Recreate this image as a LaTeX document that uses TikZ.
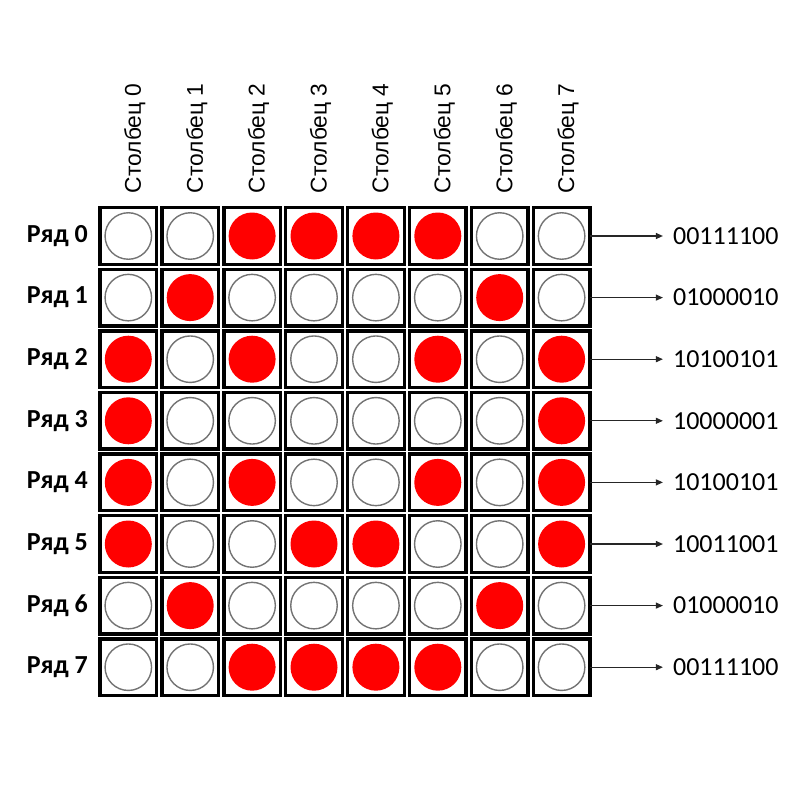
\documentclass[tikz,border=0pt]{standalone}
\usepackage{fontspec}
\setmainfont{Carlito}
\newfontfamily\colfont{Liberation Sans}
\usetikzlibrary{arrows.meta, positioning}

\begin{document}
\begin{tikzpicture}[
  x=1pt, y=-1pt,
  font=\fontsize{26}{30}\selectfont,
  cell/.style={draw, line width=3.4pt, minimum size=56.6pt, inner sep=0pt, outer sep=0pt},
  led0/.style={circle, draw=black!55, line width=1.4pt, minimum size=46.5pt, inner sep=0pt},
  led1/.style={circle, fill=red, minimum size=47pt, inner sep=0pt},
  rowlab/.style={font=\fontsize{26}{30}\selectfont\bfseries, inner sep=0pt},
  bits/.style={inner sep=0pt},
  colhead/.style={font=\colfont\fontsize{22.8}{27}\selectfont, rotate=90, anchor=west, inner sep=0pt},
  arr/.style={-{Triangle[length=7pt, width=6pt]}, line width=1.1pt, black!85, shorten >=10pt}
]
\useasboundingbox (0,0) rectangle (800,800);

% LED matrix, one row per bit pattern
\foreach \r/\pat in {0/{0,0,1,1,1,1,0,0}, 1/{0,1,0,0,0,0,1,0}, 2/{1,0,1,0,0,1,0,1}, 3/{1,0,0,0,0,0,0,1},
                     4/{1,0,1,0,0,1,0,1}, 5/{1,0,0,1,1,0,0,1}, 6/{0,1,0,0,0,0,1,0}, 7/{0,0,1,1,1,1,0,0}}{
  \foreach \b [count=\c from 0] in \pat {
    \node[cell] (c\r\c) at (128.3+61.9*\c, 236+61.6*\r) {};
    \node[led\b] (d\r\c) at (c\r\c) {};
  }
}

% column headers
\foreach \c in {0,...,7}
  \node[colhead] (h\c) at ([xshift=6.5pt, yshift=14.5pt]c0\c.north) {Столбец \c};

% row labels
\node[rowlab, left=12pt of c00] (r0) {Ряд 0};
\node[rowlab, left=12pt of c10] (r1) {Ряд 1};
\node[rowlab, left=12pt of c20] (r2) {Ряд 2};
\node[rowlab, left=12pt of c30] (r3) {Ряд 3};
\node[rowlab, left=12pt of c40] (r4) {Ряд 4};
\node[rowlab, left=12pt of c50] (r5) {Ряд 5};
\node[rowlab, left=12pt of c60] (r6) {Ряд 6};
\node[rowlab, left=12pt of c70] (r7) {Ряд 7};

% row codes
\node[bits, right=83pt of c07] (b0) {00111100};
\node[bits, right=83pt of c17] (b1) {01000010};
\node[bits, right=83pt of c27] (b2) {10100101};
\node[bits, right=83pt of c37] (b3) {10000001};
\node[bits, right=83pt of c47] (b4) {10100101};
\node[bits, right=83pt of c57] (b5) {10011001};
\node[bits, right=83pt of c67] (b6) {01000010};
\node[bits, right=83pt of c77] (b7) {00111100};

\draw[arr] (c07) -- (b0);
\draw[arr] (c17) -- (b1);
\draw[arr] (c27) -- (b2);
\draw[arr] (c37) -- (b3);
\draw[arr] (c47) -- (b4);
\draw[arr] (c57) -- (b5);
\draw[arr] (c67) -- (b6);
\draw[arr] (c77) -- (b7);
\end{tikzpicture}
\end{document}
